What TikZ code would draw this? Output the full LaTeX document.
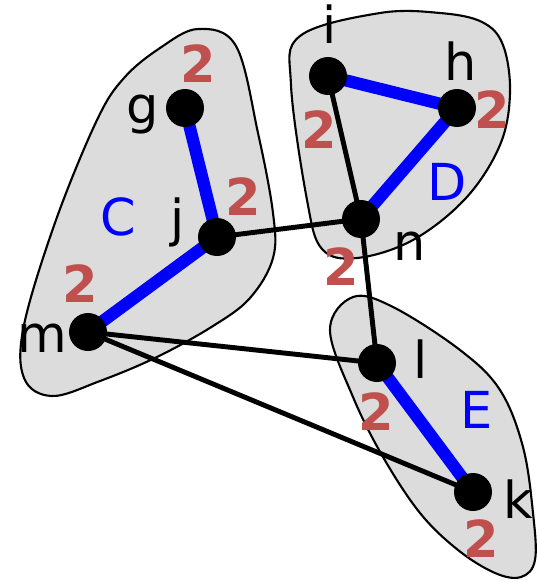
\documentclass[tikz,border=0pt]{standalone}
\usepackage{fontspec}
\setmainfont{DejaVu Sans}
\usetikzlibrary{positioning}
\definecolor{blobgray}{RGB}{220,220,220}
\definecolor{wred}{RGB}{192,80,77}

\begin{document}
\begin{tikzpicture}[x=0.02cm,y=-0.02cm,
      every node/.style={font=\fontsize{29}{34}\selectfont},
      vertex/.style={circle,minimum size=0.76cm,inner sep=0pt},
      vlabel/.style={anchor=base,inner sep=0pt},
      wt/.style={anchor=base,inner sep=0pt,text=wred,font=\fontsize{29}{34}\selectfont\bfseries},
      grp/.style={anchor=base,inner sep=0pt,text=blue},
      blob/.style={draw=black,fill=blobgray,line width=1.2pt},
      tree/.style={blue,line width=7pt},
      link/.style={black,line width=2.8pt}]
    \useasboundingbox (0,0) rectangle (537,582);
    % groups
    \draw[blob] plot[smooth cycle,tension=0.6] coordinates {(198,29) (236,46) (258,133)
      (273,213) (273,258) (250,298) (213,326) (157,357) (100,381) (52,396) (24,378)
      (24,325) (56,220) (97,120) (124,78) (160,48)};
    \draw[blob] plot[smooth cycle,tension=0.6] coordinates {(380,13) (440,13) (482,22)
      (503,45) (510,93) (500,145) (466,198) (413,240) (357,258) (322,249) (307,200)
      (291,85) (300,36)};
    \draw[blob] plot[smooth cycle,tension=0.6] coordinates {(353,297) (393,307) (460,350)
      (500,390) (523,447) (533,513) (535,560) (521,577) (495,573) (458,550) (420,513)
      (383,457) (353,397) (330,330)};
    % vertices
    \node[vertex] (g) at (185,108) {};
    \node[vertex] (j) at (217,237) {};
    \node[vertex] (m) at (88,332) {};
    \node[vertex] (i) at (328,76) {};
    \node[vertex] (h) at (457,108) {};
    \node[vertex] (n) at (361,219) {};
    \node[vertex] (l) at (377,363) {};
    \node[vertex] (k) at (473,492) {};
    % edges
    \draw[link] (j.center)--(n.center);
    \draw[link] (i.center)--(n.center);
    \draw[link] (n.center)--(l.center);
    \draw[link] (m.center)--(l.center);
    \draw[link] (m.center)--(k.center);
    \draw[tree] (g.center)--(j.center);
    \draw[tree] (j.center)--(m.center);
    \draw[tree] (i.center)--(h.center);
    \draw[tree] (h.center)--(n.center);
    \draw[tree] (l.center)--(k.center);
    \foreach \v in {g,j,m,i,h,n,l,k}
      \fill (\v) circle (0.38cm);
    % labels
    \node[vlabel] (tg) at (143,123) {g};
    \node[vlabel] (tj) at (178,236) {j};
    \node[vlabel] (tm) at (42,352) {m};
    \node[vlabel] (ti) at (330,43) {i};
    \node[vlabel] (th) at (461,80) {h};
    \node[vlabel] (tn) at (410,260) {n};
    \node[vlabel] (tl) at (421,378) {l};
    \node[vlabel] (tk) at (518,518) {k};
    \node[grp] (C) at (118,235) {C};
    \node[grp] (D) at (447,200) {D};
    \node[grp] (E) at (477,428) {E};
    \node[wt] (wg) at (198,82) {2};
    \node[wt] (wj) at (243,215) {2};
    \node[wt] (wm) at (80,302) {2};
    \node[wt] (wi) at (319,148) {2};
    \node[wt] (wh) at (492,128) {2};
    \node[wt] (wn) at (341,285) {2};
    \node[wt] (wl) at (376,430) {2};
    \node[wt] (wk) at (481,557) {2};
\end{tikzpicture}
\end{document}
